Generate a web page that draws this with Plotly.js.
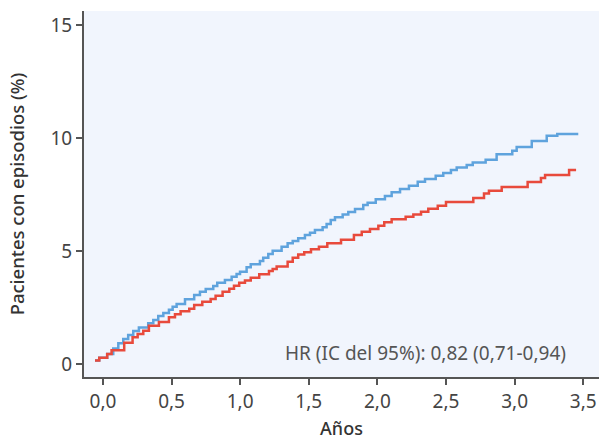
<!DOCTYPE html>
<html>
<head>
<meta charset="utf-8">
<script src="https://cdn.plot.ly/plotly-3.0.1.min.js"></script>
<style>html,body{margin:0;padding:0;background:#fff}#chart{width:599px;height:441px}</style>
</head>
<body>
<div id="chart"></div>
<script>
// Blue group (upper curve): event times (years) and cumulative % of patients with events
const blueTime = [-0.058,-0.027,0.031,0.075,0.112,0.148,0.184,0.221,0.262,0.330,0.367,0.403,0.440,0.481,0.508,0.537,0.598,0.665,0.707,0.749,0.804,0.833,0.889,0.938,0.974,0.999,1.047,1.077,1.144,1.168,1.205,1.237,1.302,1.346,1.383,1.423,1.472,1.509,1.545,1.601,1.630,1.660,1.691,1.747,1.788,1.837,1.897,1.929,1.988,2.055,2.104,2.165,2.230,2.294,2.347,2.425,2.480,2.536,2.578,2.651,2.695,2.789,2.869,2.983,3.015,3.125,3.234,3.311,3.464];
const blueValue = [0.16,0.28,0.44,0.69,0.92,1.11,1.28,1.46,1.62,1.80,1.95,2.12,2.26,2.40,2.53,2.65,2.86,3.05,3.20,3.32,3.45,3.60,3.72,3.86,3.98,4.08,4.28,4.41,4.56,4.70,4.87,5.01,5.19,5.34,5.44,5.56,5.71,5.81,5.93,6.05,6.19,6.37,6.49,6.62,6.73,6.86,7.04,7.14,7.29,7.43,7.60,7.74,7.89,8.07,8.19,8.33,8.45,8.58,8.69,8.81,8.92,9.04,9.28,9.44,9.60,9.87,10.10,10.18,10.18];

// Red group (lower curve)
const redTime = [-0.058,-0.027,0.031,0.063,0.155,0.216,0.253,0.294,0.335,0.408,0.481,0.525,0.566,0.629,0.665,0.724,0.785,0.821,0.872,0.921,0.955,0.993,1.035,1.077,1.139,1.210,1.237,1.266,1.346,1.383,1.423,1.467,1.516,1.574,1.635,1.735,1.829,1.886,1.946,2.007,2.050,2.104,2.206,2.262,2.318,2.371,2.440,2.500,2.699,2.777,2.813,2.906,3.095,3.192,3.222,3.397,3.448];
const redValue = [0.16,0.28,0.44,0.61,0.94,1.18,1.33,1.47,1.69,1.86,2.07,2.20,2.33,2.45,2.61,2.76,2.88,3.02,3.20,3.33,3.46,3.60,3.69,3.82,3.97,4.12,4.20,4.31,4.53,4.70,4.85,4.94,5.08,5.19,5.34,5.50,5.71,5.85,5.97,6.12,6.27,6.40,6.52,6.62,6.74,6.87,7.00,7.17,7.34,7.55,7.67,7.83,8.05,8.23,8.36,8.58,8.58];

const xTickVals = [0,0.5,1,1.5,2,2.5,3,3.5];
const xTickText = ["0,0","0,5","1,0","1,5","2,0","2,5","3,0","3,5"];
const yTickVals = [0,5,10,15];
const yTickText = ["0","5","10","15"];

const hrLabel = "HR (IC del 95%): 0,82 (0,71-0,94)";

const FONT = "Noto Sans, Open Sans, sans-serif";

const traces = [
  {x: blueTime, y: blueValue, type: "scatter", mode: "lines", line: {shape: "hv", color: "#5fa3dd", width: 2.5}, hoverinfo: "skip"},
  {x: redTime, y: redValue, type: "scatter", mode: "lines", line: {shape: "hv", color: "#e84a3c", width: 2.5}, hoverinfo: "skip"}
];

const layout = {
  width: 599, height: 441,
  margin: {l: 84, r: 0, t: 11, b: 64, pad: 0},
  paper_bgcolor: "#ffffff",
  plot_bgcolor: "#f1f5fd",
  showlegend: false,
  font: {family: FONT, color: "#444", size: 19},
  xaxis: {
    range: [-0.138, 3.615],
    tickvals: xTickVals, ticktext: xTickText,
    showgrid: false, zeroline: false,
    showline: true, linecolor: "#555", linewidth: 2,
    ticks: "outside", ticklen: 6, tickwidth: 2, tickcolor: "#555",
    tickfont: {family: FONT, size: 19, color: "#444"},
    title: {text: "Años", font: {family: FONT, size: 18, color: "#333", weight: 500}, standoff: 10}
  },
  yaxis: {
    range: [-0.575, 15.62],
    tickvals: yTickVals, ticktext: yTickText,
    showgrid: false, zeroline: false,
    showline: true, linecolor: "#555", linewidth: 2,
    ticks: "outside", ticklen: 6, tickwidth: 2, tickcolor: "#555",
    tickfont: {family: FONT, size: 19, color: "#444"},
    title: {text: "Pacientes con episodios (%)", font: {family: FONT, size: 18.5, color: "#333", weight: 500}, standoff: 21}
  },
  annotations: [{
    text: hrLabel, xref: "x", yref: "y", x: 2.347, y: 0.5,
    xanchor: "center", yanchor: "middle", showarrow: false,
    font: {family: FONT, size: 19, color: "#555"}
  }]
};

Plotly.newPlot("chart", traces, layout, {staticPlot: true, displayModeBar: false});
</script>
</body>
</html>
